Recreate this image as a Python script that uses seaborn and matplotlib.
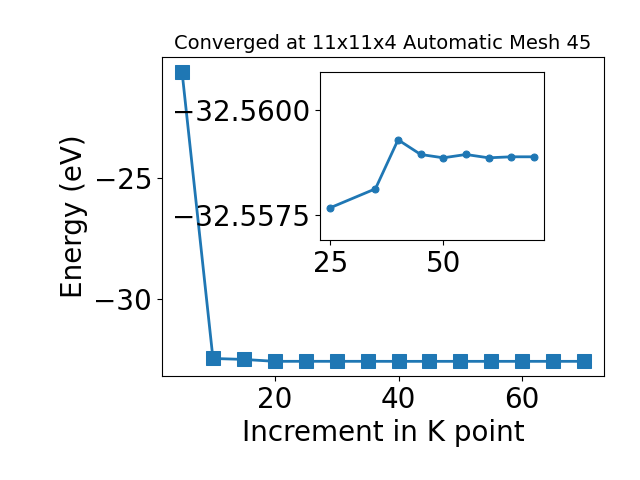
import matplotlib
matplotlib.use("Agg")
import matplotlib.pyplot as plt
import numpy as np
import pandas as pd
import seaborn as sns

kpoints = [5, 10, 15, 20, 25, 30, 35, 40, 45, 50, 55, 60, 65, 70]
energy = [-20.62, -32.44, -32.48, -32.5588, -32.557667, -32.5580, -32.558119,
          -32.559286, -32.558936, -32.558857, -32.558936, -32.558857,
          -32.558881, -32.558881]

inset_k = [25, 35, 40, 45, 50, 55, 60, 65, 70]
inset_e = [-32.557667, -32.558119, -32.559286, -32.558936, -32.558857,
           -32.558936, -32.558857, -32.558881, -32.558881]
inset_yticks = [-32.5600, -32.5575]

df = pd.DataFrame({"k": kpoints, "E": energy})
df_in = pd.DataFrame({"k": inset_k, "E": inset_e})

color = "#1f77b4"

fig = plt.figure(figsize=(6.4, 4.8), dpi=100)
ax = fig.add_subplot(111)
fig.subplots_adjust(left=0.253, right=0.944, bottom=0.217, top=0.881)

sns.lineplot(data=df, x="k", y="E", ax=ax, color=color, marker="s",
             markersize=10, linewidth=2, markeredgecolor=color)
ax.set_xlabel("Increment in K point", fontsize=20)
ax.set_ylabel("Energy (eV)", fontsize=20)
ax.set_title("Converged at 11x11x4 Automatic Mesh 45", fontsize=14)
ax.tick_params(labelsize=20)

ins = fig.add_axes([0.5, 0.5, 0.35, 0.35])
sns.lineplot(data=df_in, x="k", y="E", ax=ins, color=color, marker="o",
             markersize=5, linewidth=2, markeredgecolor=color)
ins.set_yticks(inset_yticks)
ins.set_yticklabels([f"{v:.4f}".replace("-", "\u2212") for v in inset_yticks])
ins.set_ylim(-32.5569, -32.5609)
ins.set_xlabel("")
ins.set_ylabel("")
ins.tick_params(labelsize=20)

fig.savefig("out.png", dpi=100)
